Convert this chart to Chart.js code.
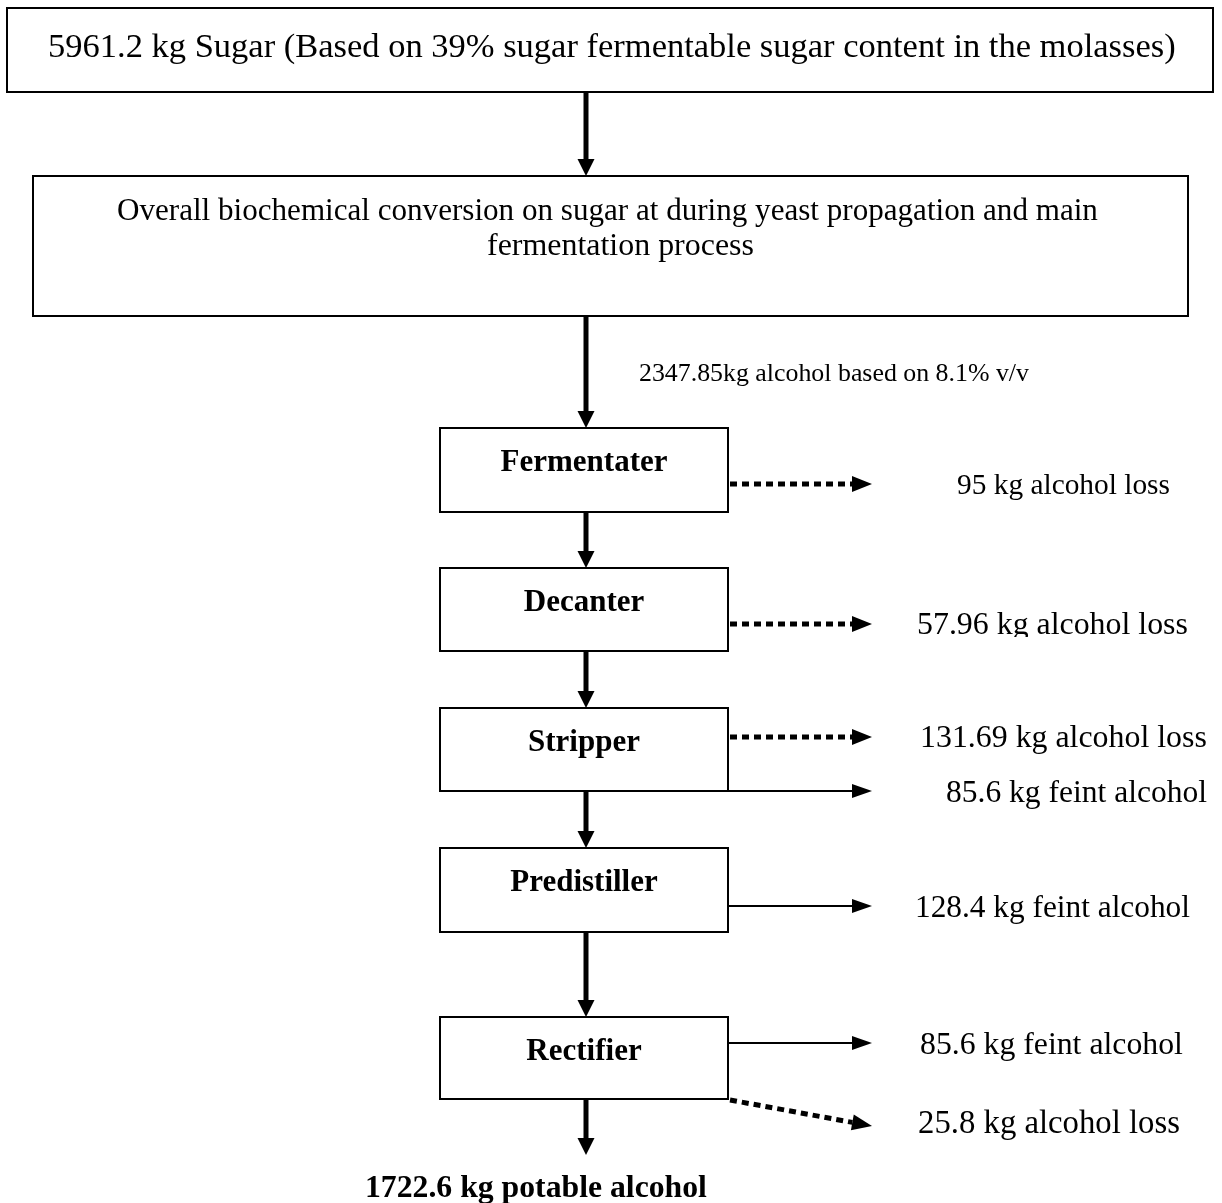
<!DOCTYPE html>
<html>
<head>
<meta charset="utf-8">
<script src="https://cdn.jsdelivr.net/npm/chart.js@4.4.1/dist/chart.umd.min.js"></script>
<style>
html,body{margin:0;padding:0;background:#fff;}
#wrap{width:1222px;height:1203px;position:relative;}
canvas{display:block;}
</style>
</head>
<body>
<div id="wrap"><canvas id="c" width="1222" height="1203"></canvas></div>
<script>
// ---------------- data ----------------
const sugarKg = 5961.2;
const fermentableSugarPct = 39;
const alcoholKg = 2347.85;
const alcoholVV = 8.1;
const potableKg = 1722.6;
const stages = ['Fermentater', 'Decanter', 'Stripper', 'Predistiller', 'Rectifier'];
const lossKg = [95, 57.96, 131.69, null, 25.8];
const feintKg = [null, null, 85.6, 128.4, 85.6];
const conversionText = ['Overall biochemical conversion on sugar at during yeast propagation and main', 'fermentation process'];

// ---------------- layout (pixel space of the 1222 x 1203 page) ----------------
const topBox = [7, 8, 1213, 92];
const convBox = [33, 176, 1188, 316];
const stageBoxes = [[440, 428, 728, 512], [440, 568, 728, 651], [440, 708, 728, 791], [440, 848, 728, 932], [440, 1017, 728, 1099]];
const mainX = 586;
const mainArrows = [[92, 176], [316, 428], [512, 568], [651, 708], [791, 848], [932, 1017], [1099, 1155]];
const lossArrows = [[730, 484, 872, 484], [730, 624, 872, 624], [730, 737, 872, 737], null, [730, 1100, 872, 1126]];
const feintArrows = [null, null, [728, 791, 872, 791], [728, 906, 872, 906], [728, 1043, 872, 1043]];
const lossText = [[957, 1170, 494], [917, 1188, 634, 637], [920, 1207, 747], null, [918, 1180, 1133]];
const feintText = [null, null, [946, 1207, 802], [915, 1190, 917], [920, 1183, 1054]];
const topText = [48, 1176, 57];
const convText = [[117, 1098, 220], [487, 754, 255]];
const alcText = [639, 1029, 381];
const finalText = [365, 707, 1197];
const FONT = '"Liberation Serif", "Times New Roman", Times, serif';

const flowPlugin = {
  id: 'flow',
  beforeDraw(chart) {
    const ctx = chart.ctx;
    ctx.save();
    ctx.fillStyle = '#fff';
    ctx.fillRect(0, 0, chart.width, chart.height);
    ctx.restore();
  },
  afterDraw(chart) {
    const ctx = chart.ctx;
    const xs = chart.scales.x, ys = chart.scales.y;
    const X = v => xs.getPixelForValue(v);
    const Y = v => ys.getPixelForValue(v);
    ctx.save();
    ctx.strokeStyle = '#000';
    ctx.fillStyle = '#000';
    ctx.lineCap = 'butt';

    function box(b) {
      ctx.setLineDash([]);
      ctx.lineWidth = 2;
      ctx.strokeRect(X(b[0]), Y(b[1]), X(b[2]) - X(b[0]), Y(b[3]) - Y(b[1]));
    }
    function arrow(x1, y1, x2, y2, lw, dash, hl, hw) {
      const px1 = X(x1), py1 = Y(y1), px2 = X(x2), py2 = Y(y2);
      const a = Math.atan2(py2 - py1, px2 - px1);
      const c = Math.cos(a), s = Math.sin(a);
      const bx = px2 - hl * c, by = py2 - hl * s;
      ctx.lineWidth = lw;
      ctx.setLineDash(dash || []);
      ctx.beginPath();
      ctx.moveTo(px1, py1);
      ctx.lineTo(bx, by);
      ctx.stroke();
      ctx.setLineDash([]);
      ctx.beginPath();
      ctx.moveTo(px2, py2);
      ctx.lineTo(bx + hw * s, by - hw * c);
      ctx.lineTo(bx - hw * s, by + hw * c);
      ctx.closePath();
      ctx.fill();
    }
    function fitText(str, x0, x1, base, bold, clipY) {
      ctx.font = (bold ? 'bold ' : '') + '40px ' + FONT;
      const m = ctx.measureText(str).width;
      const size = 40 * (X(x1) - X(x0)) / m;
      ctx.font = (bold ? 'bold ' : '') + size.toFixed(2) + 'px ' + FONT;
      ctx.textAlign = 'left';
      ctx.textBaseline = 'alphabetic';
      if (clipY != null) {
        ctx.save();
        ctx.beginPath();
        ctx.rect(0, 0, chart.width, Y(clipY));
        ctx.clip();
        ctx.fillText(str, X(x0), Y(base));
        ctx.restore();
      } else {
        ctx.fillText(str, X(x0), Y(base));
      }
    }

    // boxes
    box(topBox);
    box(convBox);
    stageBoxes.forEach(box);

    // main flow arrows
    mainArrows.forEach(a => arrow(mainX, a[0], mainX, a[1], 5, null, 17, 8.5));

    // side arrows
    lossArrows.forEach(a => { if (a) arrow(a[0], a[1], a[2], a[3], 5, [7, 5], 20, 8); });
    feintArrows.forEach(a => { if (a) arrow(a[0], a[1], a[2], a[3], 2, null, 20, 7); });

    // texts
    fitText(sugarKg + ' kg Sugar (Based on ' + fermentableSugarPct + '% sugar fermentable sugar content in the molasses)', topText[0], topText[1], topText[2], false);
    conversionText.forEach((t, i) => fitText(t, convText[i][0], convText[i][1], convText[i][2], false));
    fitText(alcoholKg + 'kg alcohol based on ' + alcoholVV + '% v/v', alcText[0], alcText[1], alcText[2], false);

    // stage labels
    ctx.font = 'bold 31px ' + FONT;
    ctx.textAlign = 'center';
    ctx.textBaseline = 'alphabetic';
    stages.forEach((s, i) => {
      const b = stageBoxes[i];
      ctx.fillText(s, X((b[0] + b[2]) / 2), Y(b[1] + 43));
    });

    lossKg.forEach((v, i) => {
      if (v == null) return;
      const t = lossText[i];
      fitText(v + ' kg alcohol loss', t[0], t[1], t[2], false, t[3]);
    });
    feintKg.forEach((v, i) => {
      if (v == null) return;
      const t = feintText[i];
      fitText(v + ' kg feint alcohol', t[0], t[1], t[2], false);
    });
    fitText(potableKg + ' kg potable alcohol', finalText[0], finalText[1], finalText[2], true);
    ctx.restore();
  }
};

new Chart(document.getElementById('c'), {
  type: 'scatter',
  data: {
    datasets: [{
      label: 'stages',
      data: stageBoxes.map(b => ({ x: (b[0] + b[2]) / 2, y: (b[1] + b[3]) / 2 })),
      pointRadius: 0,
      showLine: false
    }]
  },
  options: {
    responsive: false,
    animation: false,
    devicePixelRatio: 1,
    layout: { padding: 0 },
    plugins: { legend: { display: false }, tooltip: { enabled: false } },
    scales: {
      x: { type: 'linear', min: 0, max: 1222, display: false },
      y: { type: 'linear', min: 0, max: 1203, reverse: true, display: false }
    }
  },
  plugins: [flowPlugin]
});
</script>
</body>
</html>
